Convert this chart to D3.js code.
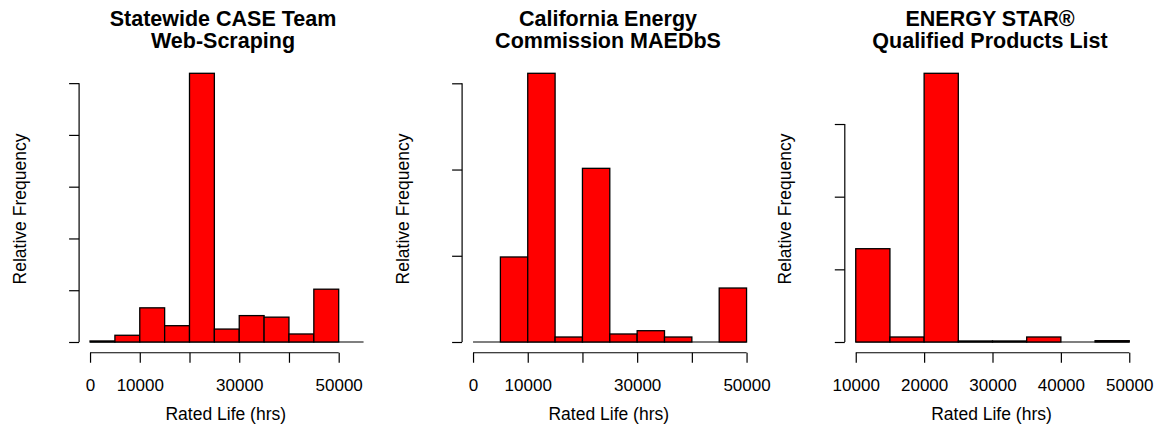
<!DOCTYPE html>
<html>
<head>
<meta charset="utf-8">
<script src="https://cdn.jsdelivr.net/npm/d3@7"></script>
<style>
  html, body { margin: 0; padding: 0; background: #fff; }
  svg { display: block; }
  text { font-family: "Liberation Sans", Arial, sans-serif; fill: #000; }
</style>
</head>
<body>
<svg id="chart" width="1158" height="429"></svg>
<script>
// ---------- data ----------
const titles1 = ["Statewide CASE Team", "Web-Scraping"];
const titles2 = ["California Energy", "Commission MAEDbS"];
const titles3 = ["ENERGY STAR\u00AE", "Qualified Products List"];

const binWidth = 5000;
const binStarts1 = [0, 5000, 10000, 15000, 20000, 25000, 30000, 35000, 40000, 45000];
const values1    = [0.002, 0.013, 0.066, 0.0315, 0.519, 0.025, 0.051, 0.048, 0.0155, 0.102];

const binStarts2 = [0, 5000, 10000, 15000, 20000, 25000, 30000, 35000, 40000, 45000];
const values2    = [0, 0.0986, 0.3116, 0.0058, 0.2014, 0.0093, 0.0131, 0.0058, 0, 0.0626];

const binStarts3 = [10000, 15000, 20000, 25000, 30000, 35000, 40000, 45000];
const values3    = [0.1284, 0.0069, 0.3698, 0.0014, 0.0014, 0.0069, 0, 0.0018];

const xlim1 = [0, 55000];
const xlim2 = [0, 50000];
const xlim3 = [10000, 50000];

const xTicks1 = [0, 10000, 20000, 30000, 40000, 50000];
const xTickLabels1 = ["0", "10000", "", "30000", "", "50000"];
const xTicks2 = [0, 10000, 20000, 30000, 40000, 50000];
const xTickLabels2 = ["0", "10000", "", "30000", "", "50000"];
const xTicks3 = [10000, 20000, 30000, 40000, 50000];
const xTickLabels3 = ["10000", "20000", "30000", "40000", "50000"];

const yTicks1 = [0, 0.1, 0.2, 0.3, 0.4, 0.5];
const yTicks2 = [0, 0.1, 0.2, 0.3];
const yTicks3 = [0, 0.1, 0.2, 0.3];

const xAxisTitle = "Rated Life (hrs)";
const yAxisTitle = "Relative Frequency";

// ---------- layout ----------
const panels = [
  { title: titles1, starts: binStarts1, values: values1, xlim: xlim1, xTicks: xTicks1, xLabels: xTickLabels1, yTicks: yTicks1, left: 79.1, titleX: 223 },
  { title: titles2, starts: binStarts2, values: values2, xlim: xlim2, xTicks: xTicks2, xLabels: xTickLabels2, yTicks: yTicks2, left: 462.1, titleX: 608 },
  { title: titles3, starts: binStarts3, values: values3, xlim: xlim3, xTicks: xTicks3, xLabels: xTickLabels3, yTicks: yTicks3, left: 844.8, titleX: 990 }
];
const plotW = 295.4;
const yBase = 342, yTopBar = 73.3;
const svg = d3.select("#chart");

panels.forEach(p => {
  const g = svg.append("g");
  const lo = p.xlim[0], hi = p.xlim[1], pad = 0.04 * (hi - lo);
  const x = d3.scaleLinear().domain([lo - pad, hi + pad]).range([p.left, p.left + plotW]);
  const maxV = d3.max(p.values);
  const y = d3.scaleLinear().domain([0, maxV]).range([yBase, yTopBar]);
  const plotBottom = y(-0.04 * maxV);

  // baseline
  g.append("line")
    .attr("x1", x(lo)).attr("x2", x(hi))
    .attr("y1", y(0)).attr("y2", y(0))
    .attr("stroke", "#000").attr("stroke-width", 1.2);

  // bars
  g.selectAll("rect.bar").data(p.starts.map((s, i) => ({ s, v: p.values[i] })).filter(d => d.v > 0))
    .enter().append("rect")
    .attr("class", "bar")
    .attr("x", d => x(d.s))
    .attr("width", d => x(d.s + binWidth) - x(d.s))
    .attr("y", d => y(d.v))
    .attr("height", d => y(0) - y(d.v))
    .attr("fill", "#ff0000")
    .attr("stroke", "#000")
    .attr("stroke-width", 1.3);

  // x axis
  const xAxis = d3.axisBottom(x).tickValues(p.xTicks)
    .tickFormat((d, i) => p.xLabels[i]).tickSize(10).tickSizeOuter(0);
  const xg = g.append("g").attr("transform", `translate(0,${plotBottom})`).call(xAxis);
  xg.select(".domain").attr("d", `M${x(p.xTicks[0])},0H${x(p.xTicks[p.xTicks.length - 1])}`)
    .attr("stroke", "#000").attr("stroke-width", 1.2);
  xg.selectAll(".tick line").attr("stroke", "#000").attr("stroke-width", 1.2);
  xg.selectAll(".tick text").attr("y", 0).attr("dy", 0)
    .attr("transform", `translate(0,${391 - plotBottom})`)
    .style("font-size", "17px").style("font-family", "Liberation Sans, Arial, sans-serif").attr("fill", "#000");

  // y axis
  const yAxis = d3.axisLeft(y).tickValues(p.yTicks).tickFormat("").tickSize(10).tickSizeOuter(0);
  const yg = g.append("g").attr("transform", `translate(${p.left},0)`).call(yAxis);
  yg.select(".domain").attr("d", `M0,${y(p.yTicks[0])}V${y(p.yTicks[p.yTicks.length - 1])}`)
    .attr("stroke", "#000").attr("stroke-width", 1.2);
  yg.selectAll(".tick line").attr("stroke", "#000").attr("stroke-width", 1.2);

  // axis titles
  g.append("text")
    .attr("x", x(lo - pad) + plotW / 2 - 1).attr("y", 420)
    .attr("text-anchor", "middle").style("font-size", "17.5px")
    .text(xAxisTitle);
  g.append("text")
    .attr("transform", `translate(${p.left - 53.5},209) rotate(-90)`)
    .attr("text-anchor", "middle").style("font-size", "17.5px")
    .text(yAxisTitle);

  // title
  const t = g.append("text").attr("text-anchor", "middle")
    .style("font-size", "21.5px").style("font-weight", "bold");
  p.title.forEach((line, i) => {
    t.append("tspan").attr("x", p.titleX).attr("y", 25.5 + i * 22.2).text(line);
  });
});
</script>
</body>
</html>
